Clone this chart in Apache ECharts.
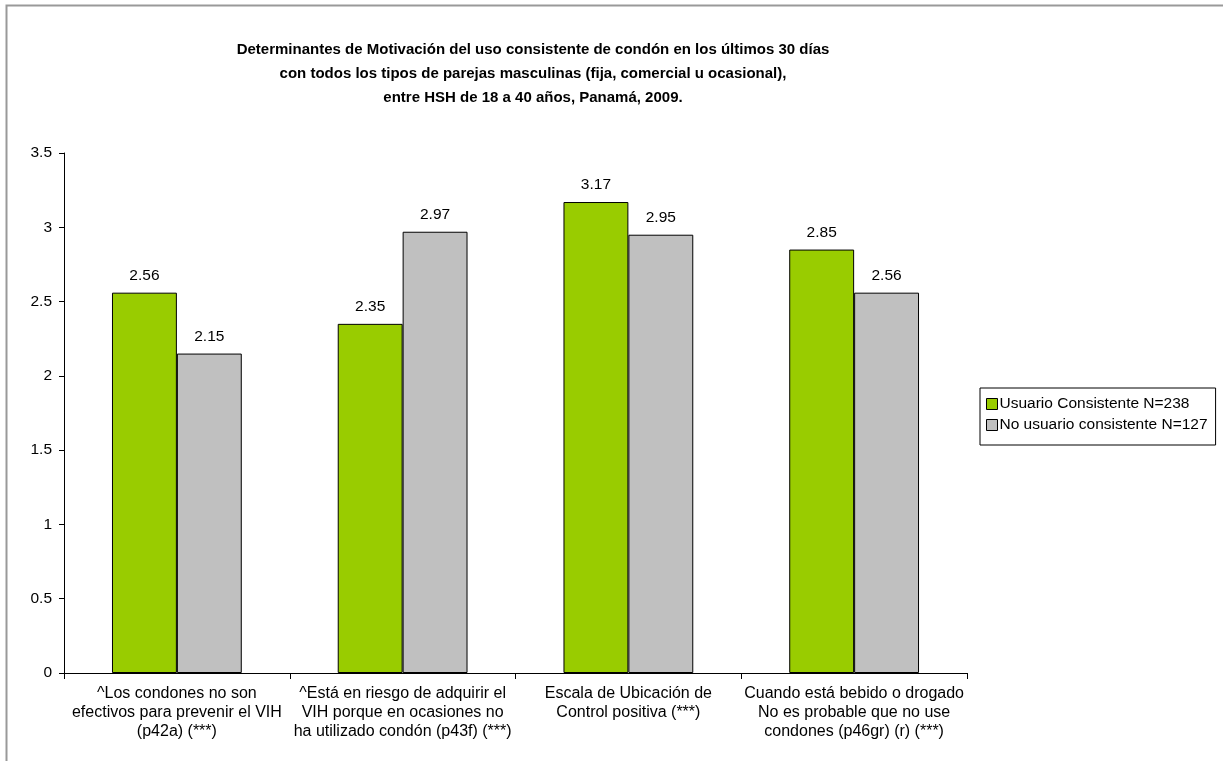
<!DOCTYPE html>
<html>
<head>
<meta charset="utf-8">
<script src="https://cdn.jsdelivr.net/npm/echarts@6/dist/echarts.min.js"></script>
<style>
  html, body { margin: 0; padding: 0; background: #fff; }
  #chart { width: 1223px; height: 761px; }
</style>
</head>
<body>
<div id="chart"></div>
<script>
const categories = [
  '^Los condones no son\nefectivos para prevenir el VIH\n(p42a) (***)',
  '^Está en riesgo de adquirir el\nVIH porque en ocasiones no\nha utilizado condón (p43f) (***)',
  'Escala de Ubicación de\nControl positiva (***)',
  'Cuando está bebido o drogado\nNo es probable que no use\ncondones (p46gr) (r) (***)'
];
const usuario = [2.56, 2.35, 3.17, 2.85];
const noUsuario = [2.15, 2.97, 2.95, 2.56];
const seriesNames = ['Usuario Consistente N=238', 'No usuario consistente N=127'];

const chart = echarts.init(document.getElementById('chart'));

const labelStyle = {
  show: true,
  position: 'top',
  distance: 9,
  color: '#000',
  fontFamily: 'Liberation Sans, Arial',
  fontSize: 15.5
};

const option = {
  animation: false,
  backgroundColor: '#fff',
  textStyle: { fontFamily: 'Liberation Sans, Arial' },
  title: {
    text: 'Determinantes de Motivación del uso consistente de condón en los últimos 30 días\ncon todos los tipos de parejas masculinas (fija, comercial u ocasional),\nentre HSH de 18 a 40 años, Panamá, 2009.',
    left: 528,
    top: 33,
    textAlign: 'center',
    textStyle: {
      fontFamily: 'Liberation Sans, Arial',
      fontSize: 15,
      fontWeight: 'bold',
      color: '#000',
      lineHeight: 24
    }
  },
  graphic: [{
    type: 'rect',
    shape: { x: 6.5, y: 5.5, width: 1300, height: 900 },
    style: { fill: 'none', stroke: '#999', lineWidth: 2 },
    silent: true
  }],
  legend: {
    orient: 'vertical',
    left: 980,
    top: 388,
    icon: 'rect',
    itemWidth: 11,
    itemHeight: 11,
    itemGap: 3,
    padding: [7, 8, 11, 6],
    borderColor: '#000',
    borderWidth: 1,
    borderRadius: 0,
    textStyle: { fontSize: 15.5, lineHeight: 18, color: '#000', padding: [0, 0, 0, -3] },
    itemStyle: { borderColor: '#000', borderWidth: 1 },
    data: seriesNames
  },
  grid: {
    left: 64,
    right: 256,
    top: 153,
    bottom: 88,
    containLabel: false
  },
  xAxis: {
    type: 'category',
    data: categories,
    axisLine: { lineStyle: { color: '#000', width: 1 } },
    axisTick: { show: true, length: 6, lineStyle: { color: '#000' } },
    axisLabel: {
      color: '#000',
      fontSize: 16,
      lineHeight: 19,
      margin: 11,
      interval: 0
    }
  },
  yAxis: {
    type: 'value',
    min: 0,
    max: 3.5,
    interval: 0.5,
    splitLine: { show: false },
    axisLine: { show: true, lineStyle: { color: '#000', width: 1 } },
    axisTick: { show: true, length: 5, lineStyle: { color: '#000' } },
    axisLabel: { color: '#000', fontSize: 15.5, margin: 12 }
  },
  series: [
    {
      name: seriesNames[0],
      type: 'bar',
      data: usuario,
      barGap: '0%',
      barCategoryGap: '42.5%',
      itemStyle: { color: '#99cc00', borderColor: '#000', borderWidth: 1 },
      label: labelStyle
    },
    {
      name: seriesNames[1],
      type: 'bar',
      data: noUsuario,
      barGap: '0%',
      barCategoryGap: '42.5%',
      itemStyle: { color: '#c0c0c0', borderColor: '#000', borderWidth: 1 },
      label: labelStyle
    }
  ]
};

chart.setOption(option);
</script>
</body>
</html>
